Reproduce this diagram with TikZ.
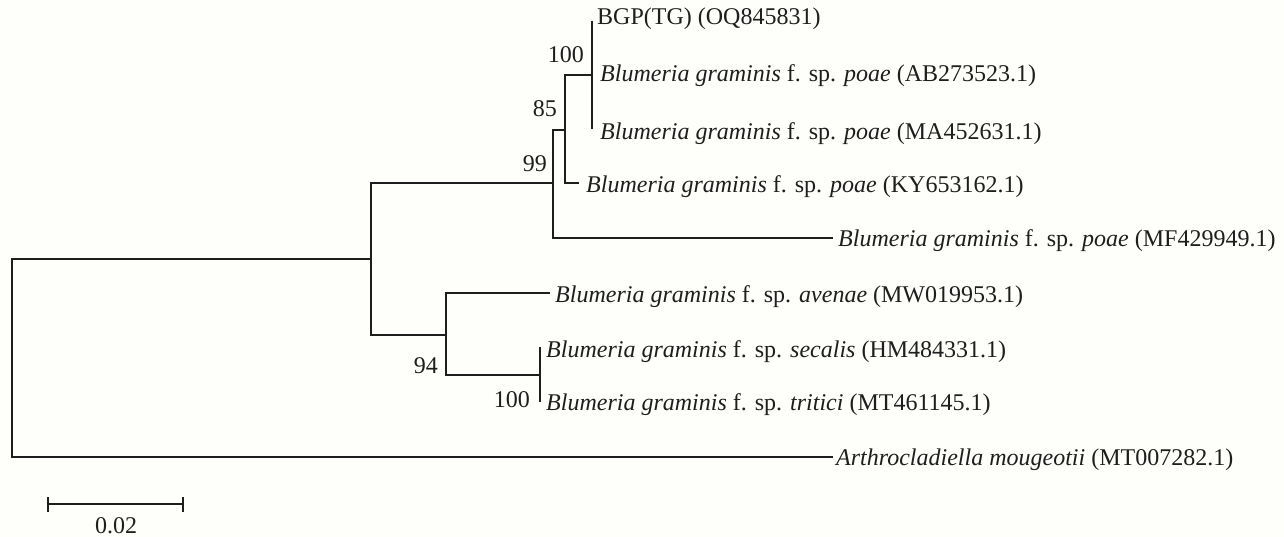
\documentclass[tikz,border=0pt]{standalone}
\usepackage{fontspec}
\setmainfont{Liberation Serif}
\definecolor{bg}{RGB}{254,254,251}
\definecolor{ink}{RGB}{30,30,30}
\begin{document}
\begin{tikzpicture}[x=1pt,y=-1pt,
  branch/.style={draw=ink,line width=2.4pt,line cap=rect},
  leaflabel/.style={anchor=base west,inner sep=0pt,font=\fontsize{24}{28}\selectfont,text=ink},
  boot/.style={anchor=base east,inner sep=0pt,font=\fontsize{24}{28}\selectfont,text=ink}]
\fill[bg] (0,0) rectangle (1284,537);
\useasboundingbox (0,0) rectangle (1284,537);
% internal nodes
\coordinate (R) at (12,358);
\coordinate (A) at (371,259);
\coordinate (B) at (553,183);
\coordinate (C) at (565,130);
\coordinate (D) at (592,75);
\coordinate (E) at (446,335);
\coordinate (F) at (540,375);
% leaves
\coordinate (l1) at (592,22);
\coordinate (l3) at (592,128);
\coordinate (l4) at (578,183);
\coordinate (l5) at (832,238);
\coordinate (l6) at (549,293);
\coordinate (l7) at (540,348);
\coordinate (l8) at (540,401);
\coordinate (l9) at (832,457);
% branches
\draw[branch] (R) |- (A);
\draw[branch] (R) |- (l9);
\draw[branch] (A) |- (B);
\draw[branch] (A) |- (E);
\draw[branch] (B) |- (C);
\draw[branch] (B) |- (l5);
\draw[branch] (C) |- (D);
\draw[branch] (C) |- (l4);
\draw[branch] (l1) -- (l3);
\draw[branch] (E) |- (l6);
\draw[branch] (E) |- (F);
\draw[branch] (l7) -- (l8);
% labels
\node[leaflabel] (t1) at (597,25) {BGP(TG) (OQ845831)};
\node[leaflabel] (t2) at (600,82) {\textit{Blumeria graminis} f. sp. \textit{poae} (AB273523.1)};
\node[leaflabel] (t3) at (600,140) {\textit{Blumeria graminis} f. sp. \textit{poae} (MA452631.1)};
\node[leaflabel] (t4) at (586,193) {\textit{Blumeria graminis} f. sp. \textit{poae} (KY653162.1)};
\node[leaflabel] (t5) at (838,247) {\textit{Blumeria graminis} f. sp. \textit{poae} (MF429949.1)};
\node[leaflabel] (t6) at (555,302) {\textit{Blumeria graminis} f. sp. \textit{avenae} (MW019953.1)};
\node[leaflabel] (t7) at (546,357) {\textit{Blumeria graminis} f. sp. \textit{secalis} (HM484331.1)};
\node[leaflabel] (t8) at (546,410) {\textit{Blumeria graminis} f. sp. \textit{tritici} (MT461145.1)};
\node[leaflabel] (t9) at (836,465) {\textit{Arthrocladiella mougeotii} (MT007282.1)};
% bootstrap
\node[boot] (bD) at (584,63) {100};
\node[boot] (bC) at (557,117) {85};
\node[boot] (bB) at (547,172) {99};
\node[boot] (bE) at (438,373) {94};
\node[boot] (bF) at (530,407) {100};
% scale bar
\coordinate (s1) at (48,504);
\coordinate (s2) at (183,504);
\draw[branch,line cap=butt] (s1) -- (s2);
\draw[branch,line cap=butt] ([yshift=-7.5pt]s1) -- ([yshift=7.5pt]s1);
\draw[branch,line cap=butt] ([yshift=-7.5pt]s2) -- ([yshift=7.5pt]s2);
\node[anchor=base,inner sep=0pt,font=\fontsize{24}{28}\selectfont,text=ink] (sl) at (116,533) {0.02};
\end{tikzpicture}
\end{document}
